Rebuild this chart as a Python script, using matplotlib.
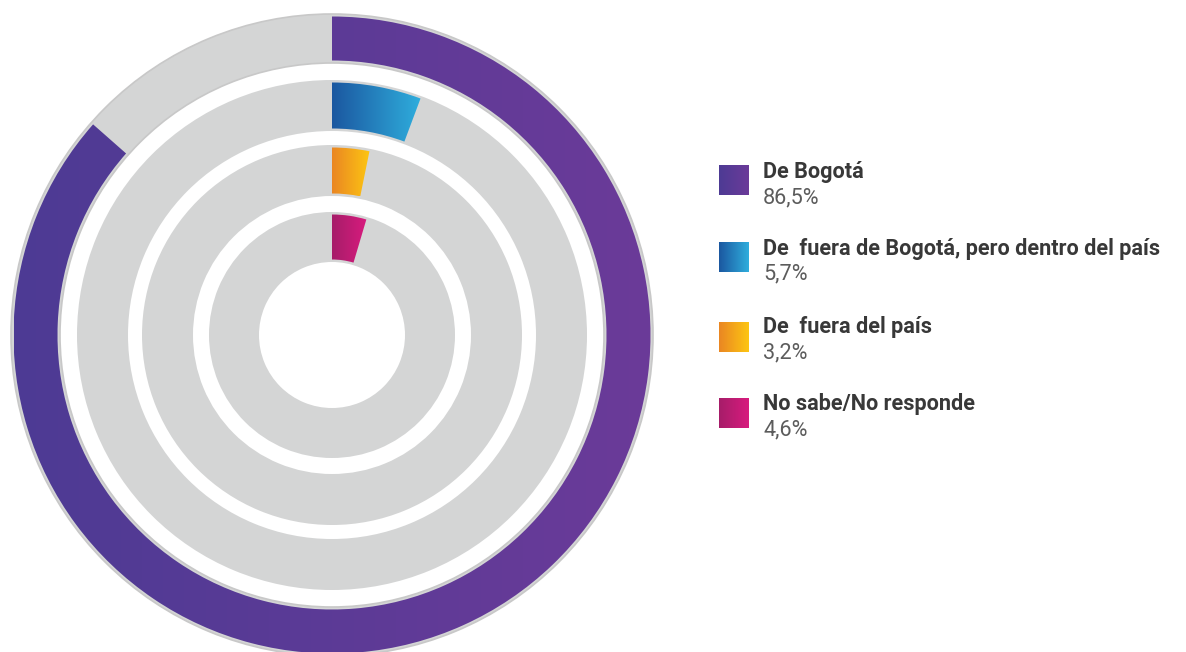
import numpy as np
import matplotlib
matplotlib.use("Agg")
import matplotlib.pyplot as plt
from matplotlib.colors import LinearSegmentedColormap
from matplotlib.patches import Rectangle

# data
labels = ["De Bogotá", "De  fuera de Bogotá, pero dentro del país",
          "De  fuera del país", "No sabe/No responde"]
values = [86.5, 5.7, 3.2, 4.6]
pct_text = ["86,5%", "5,7%", "3,2%", "4,6%"]

# (left colour, right colour) of each gradient
grads = [("#4d3b94", "#6b3a99"), ("#1b57a0", "#2faedd"),
         ("#ea8623", "#fdc612"), ("#a61d69", "#d81b7e")]
grey = "#d4d5d5"

# ring radii in pixels: (outer, inner) of grey track
rings = [(321, 272), (255, 204), (190, 139), (123, 73)]
inset = 2.5

W, H = 1186, 652
cx, cy = 332, H - 335


def gradient_fill(ax, patch, c0, c1, z, ext):
    cmap = LinearSegmentedColormap.from_list("g", [c0, c1])
    img = np.linspace(0, 1, 256).reshape(1, -1)
    im = ax.imshow(img, cmap=cmap, aspect="auto", zorder=z,
                   extent=ext, interpolation="bilinear")
    im.set_clip_path(patch)


fig = plt.figure(figsize=(W / 100, H / 100), dpi=100)
ax = fig.add_axes([0, 0, 1, 1])

for i, (v, (r_out, r_in)) in enumerate(zip(values, rings)):
    ec = "#c8c8c8" if i == 0 else "none"
    ax.pie([1], radius=r_out, center=(cx, cy), colors=[grey],
           wedgeprops=dict(width=r_out - r_in, edgecolor=ec, linewidth=1.2))
    r = r_out - inset
    wedges, _ = ax.pie([v, 100 - v], radius=r, center=(cx, cy),
                       startangle=90, counterclock=False,
                       colors=["none", "none"],
                       wedgeprops=dict(width=r - r_in - inset, linewidth=0))
    seg = wedges[0]
    seg.set_zorder(2)
    bb = seg.get_path().get_extents()
    gradient_fill(ax, seg, grads[i][0], grads[i][1], 3,
                  (bb.x0, bb.x1, bb.y0, bb.y1))

# legend
sq_top = [165, 242, 322, 398]
lab_base = [178, 255, 333, 410]
pct_base = [203, 279, 358, 435]
for i in range(len(labels)):
    y0 = H - sq_top[i] - 30
    rect = Rectangle((719, y0), 30, 30, facecolor="none", edgecolor="none")
    ax.add_patch(rect)
    gradient_fill(ax, rect, grads[i][0], grads[i][1], 3,
                  (719, 749, y0, y0 + 30))
    ax.text(763, H - lab_base[i], labels[i], fontsize=15.6, fontweight="bold",
            family="Roboto", color="#383838", va="baseline", ha="left")
    ax.text(763, H - pct_base[i], pct_text[i], fontsize=15.6,
            family="Roboto", color="#5c5c5c", va="baseline", ha="left")

ax.set_xlim(0, W)
ax.set_ylim(0, H)
ax.set_aspect("auto")
ax.axis("off")

fig.savefig("out.png", dpi=100, facecolor="white")
